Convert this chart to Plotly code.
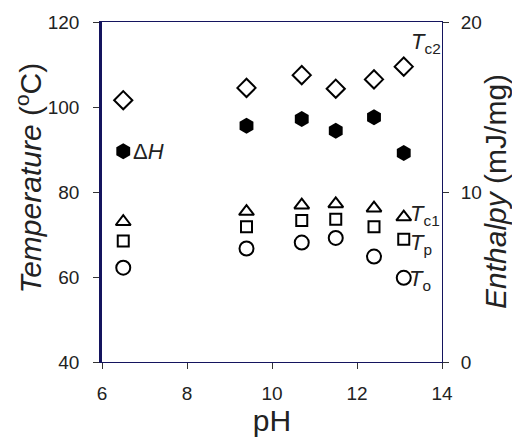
import plotly.graph_objects as go

ph = [6.5, 9.4, 10.7, 11.5, 12.4, 13.1]
t_c2 = [101.6, 104.5, 107.5, 104.3, 106.5, 109.5]
t_c1 = [73.0, 75.4, 76.9, 77.2, 76.2, 74.1]
t_p = [68.5, 71.8, 73.3, 73.6, 71.8, 68.9]
t_o = [62.2, 66.7, 68.1, 69.2, 64.8, 59.8]
enthalpy = [12.4, 13.9, 14.3, 13.6, 14.4, 12.3]

x_ticks = [6, 8, 10, 12, 14]
y_ticks = [40, 60, 80, 100, 120]
y2_ticks = [0, 10, 20]

FONT = "Liberation Sans, Arial, sans-serif"
NAVY = "#14145e"

fig = go.Figure()
open_marker = dict(color="white", line=dict(color="black", width=2))

fig.add_trace(go.Scatter(x=ph, y=t_c2, mode="markers",
                         marker=dict(symbol="diamond", size=14, **open_marker)))
fig.add_trace(go.Scatter(x=ph, y=t_c1, mode="markers",
                         marker=dict(symbol="triangle-up", size=13, **open_marker)))
fig.add_trace(go.Scatter(x=ph, y=t_p, mode="markers",
                         marker=dict(symbol="square", size=11, **open_marker)))
fig.add_trace(go.Scatter(x=ph, y=t_o, mode="markers",
                         marker=dict(symbol="circle", size=14, **open_marker)))
fig.add_trace(go.Scatter(x=ph, y=enthalpy, mode="markers", yaxis="y2",
                         marker=dict(symbol="hexagon", size=16, color="black",
                                     line=dict(width=0))))

fig.update_layout(
    width=520, height=440,
    margin=dict(l=94, r=86, t=14, b=86),
    plot_bgcolor="white", paper_bgcolor="white",
    showlegend=False,
    font=dict(family=FONT, size=19, color="#222"),
    xaxis=dict(range=[6, 14], tickvals=x_ticks, showgrid=False, zeroline=False,
               showline=True, linecolor=NAVY, linewidth=1, mirror=True,
               ticks="outside", ticklen=6, tickcolor="#333", ticklabelstandoff=8,
               automargin=False,
               title=dict(text="pH", font=dict(size=30), standoff=6)),
    yaxis=dict(range=[40, 120], tickvals=y_ticks, showgrid=False, zeroline=False,
               showline=True, linecolor=NAVY, linewidth=2.5,
               ticks="outside", ticklen=6, tickcolor="#333", ticklabelstandoff=10,
               automargin=False),
    yaxis2=dict(range=[0, 20], tickvals=y2_ticks, overlaying="y", side="right",
                showgrid=False, zeroline=False, showline=True, linecolor=NAVY,
                linewidth=1, ticks="outside", ticklen=6, tickcolor="#333",
                ticklabelstandoff=8, automargin=False),
)

# axis titles (rotated)
fig.add_annotation(xref="paper", yref="paper", x=0, y=0.54, xshift=-73,
                   text="<i>Temperature</i> (<sup>o</sup>C)", textangle=-90,
                   showarrow=False, xanchor="center", yanchor="middle",
                   font=dict(family=FONT, size=30, color="#222"))
fig.add_annotation(xref="paper", yref="paper", x=1, y=0.5, xshift=53,
                   text="<i>Enthalpy</i> (mJ/mg)", textangle=-90,
                   showarrow=False, xanchor="center", yanchor="middle",
                   font=dict(family=FONT, size=30, color="#222"))

ann_font = dict(family=FONT, size=22, color="#222")
fig.add_annotation(x=13.22, y=115.0, text="<i>T</i><sub>c2</sub>", showarrow=False,
                   xanchor="left", yanchor="middle", font=ann_font)
fig.add_annotation(x=6.68, y=89.5, text="Δ<i>H</i>", showarrow=False,
                   xanchor="left", yanchor="middle", font=ann_font)
fig.add_annotation(x=13.2, y=74.6, text="<i>T</i><sub>c1</sub>", showarrow=False,
                   xanchor="left", yanchor="middle", font=ann_font)
fig.add_annotation(x=13.2, y=67.8, text="<i>T</i><sub>p</sub>", showarrow=False,
                   xanchor="left", yanchor="middle", font=ann_font)
fig.add_annotation(x=13.18, y=59.2, text="<i>T</i><sub>o</sub>", showarrow=False,
                   xanchor="left", yanchor="middle", font=ann_font)

fig.write_html("out.html")
